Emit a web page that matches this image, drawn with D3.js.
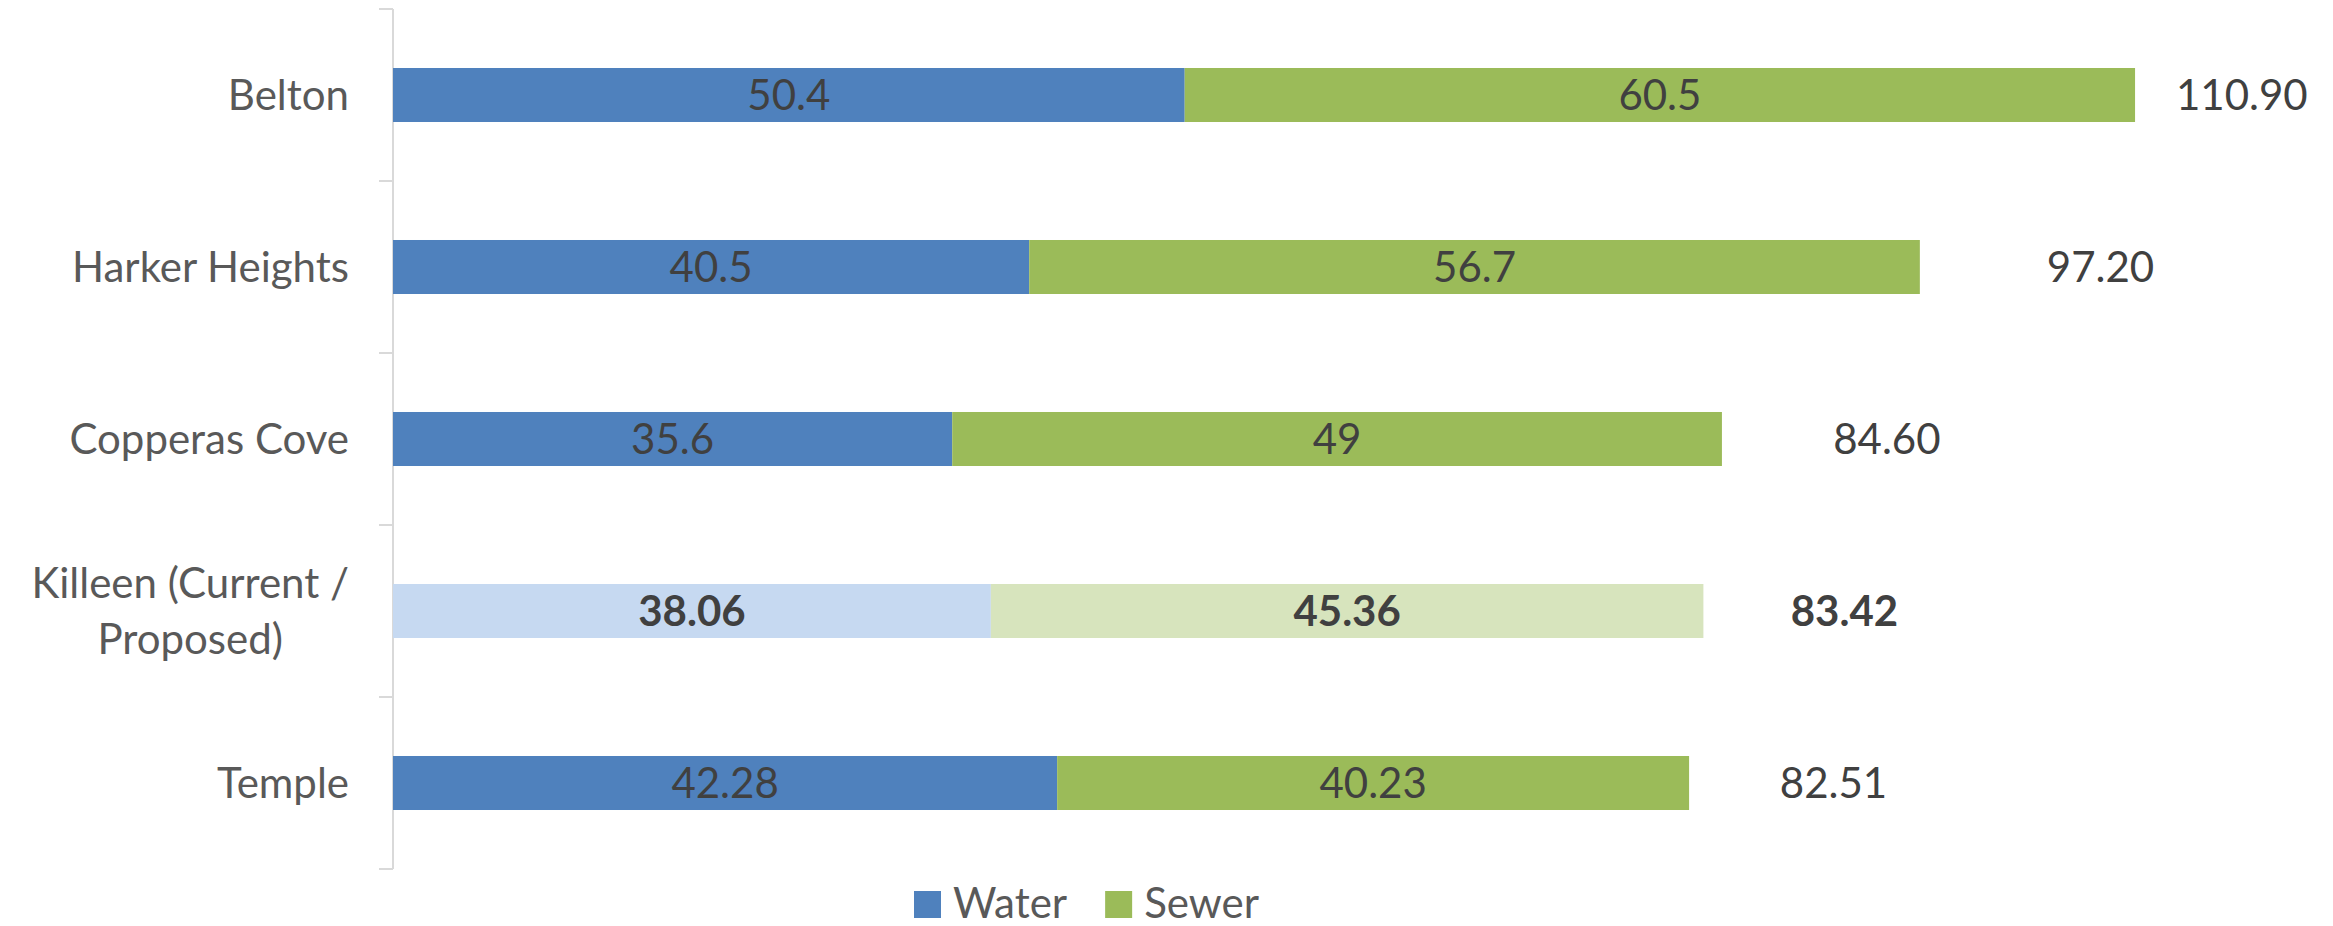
<!DOCTYPE html>
<html>
<head>
<meta charset="utf-8">
<script src="https://cdn.jsdelivr.net/npm/d3@7"></script>
<style>
  html, body { margin: 0; padding: 0; background: #ffffff; }
  svg { display: block; }
  text { font-family: Lato, "Open Sans", sans-serif; }
</style>
</head>
<body>
<svg id="chart" width="2333" height="926"></svg>
<script>
// ---- data ----
const categories = ["Belton", "Harker Heights", "Copperas Cove", "Killeen (Current / Proposed)", "Temple"];
const categoryLines = [["Belton"], ["Harker Heights"], ["Copperas Cove"], ["Killeen (Current /", "Proposed)"], ["Temple"]];
const water = [50.4, 40.5, 35.6, 38.06, 42.28];
const sewer = [60.5, 56.7, 49, 45.36, 40.23];
const waterLabels = ["50.4", "40.5", "35.6", "38.06", "42.28"];
const sewerLabels = ["60.5", "56.7", "49", "45.36", "40.23"];
const totals = [110.90, 97.20, 84.60, 83.42, 82.51];
const totalLabelAt = [117.7, 108.7, 95.1, 92.4, 91.7];   // value position of total label centre
const highlighted = [false, false, false, true, false];
const seriesNames = ["Water", "Sewer"];

// ---- styles ----
const colWater = "#4F81BD", colSewer = "#9BBB59";
const colWaterLight = "#C6D9F1", colSewerLight = "#D7E4BD";
const fontSize = 42;
const capOffset = 15;

const svg = d3.select("#chart");
const plotLeft = 393, plotRight = 2278, plotTop = 9, plotBottom = 869;

const x = d3.scaleLinear().domain([0, 120]).range([plotLeft, plotRight]);
const y = d3.scaleBand().domain(categories).range([plotTop, plotBottom]).padding(0);
const barH = y.bandwidth() * 0.314;

const rows = categories.map((c, i) => ({
  cat: c, lines: categoryLines[i], w: water[i], s: sewer[i],
  wl: waterLabels[i], sl: sewerLabels[i], t: totals[i], tAt: totalLabelAt[i], hi: highlighted[i]
}));

// axis line + ticks
const axisG = svg.append("g");
axisG.append("line")
  .attr("x1", plotLeft).attr("x2", plotLeft)
  .attr("y1", plotTop).attr("y2", plotBottom)
  .attr("stroke", "#d9d9d9").attr("stroke-width", 2);
const tickYs = categories.map(c => y(c)).concat([y(categories[categories.length - 1]) + y.bandwidth()]);
axisG.selectAll("line.tick").data(tickYs).enter().append("line")
  .attr("class", "tick")
  .attr("x1", plotLeft - 14).attr("x2", plotLeft)
  .attr("y1", d => d).attr("y2", d => d)
  .attr("stroke", "#d9d9d9").attr("stroke-width", 2);

// bars
const barsG = svg.append("g");
const cy = d => y(d.cat) + y.bandwidth() / 2;
barsG.selectAll("rect.water").data(rows).enter().append("rect")
  .attr("x", x(0)).attr("y", d => cy(d) - barH / 2)
  .attr("width", d => x(d.w) - x(0)).attr("height", barH)
  .attr("fill", d => d.hi ? colWaterLight : colWater);
barsG.selectAll("rect.sewer").data(rows).enter().append("rect")
  .attr("x", d => x(d.w)).attr("y", d => cy(d) - barH / 2)
  .attr("width", d => x(d.w + d.s) - x(d.w)).attr("height", barH)
  .attr("fill", d => d.hi ? colSewerLight : colSewer);

// data labels
const lblG = svg.append("g").attr("font-size", fontSize).attr("fill", "#404040");
lblG.selectAll("text.wl").data(rows).enter().append("text")
  .attr("x", d => (x(0) + x(d.w)) / 2).attr("y", d => cy(d) + capOffset)
  .attr("text-anchor", "middle")
  .attr("font-weight", d => d.hi ? "bold" : "normal")
  .text(d => d.wl);
lblG.selectAll("text.sl").data(rows).enter().append("text")
  .attr("x", d => (x(d.w) + x(d.w + d.s)) / 2).attr("y", d => cy(d) + capOffset)
  .attr("text-anchor", "middle")
  .attr("font-weight", d => d.hi ? "bold" : "normal")
  .text(d => d.sl);
lblG.selectAll("text.tl").data(rows).enter().append("text")
  .attr("x", d => x(d.tAt)).attr("y", d => cy(d) + capOffset)
  .attr("text-anchor", "middle")
  .attr("font-weight", d => d.hi ? "bold" : "normal")
  .text(d => d.t.toFixed(2));

// category labels
const catG = svg.append("g").attr("font-size", fontSize).attr("fill", "#595959");
const labelRight = 349;
const lineGap = 56;
rows.forEach(d => {
  const g = catG.append("g");
  const n = d.lines.length;
  const texts = d.lines.map((ln, k) => g.append("text")
    .attr("y", cy(d) + capOffset + (k - (n - 1) / 2) * lineGap)
    .text(ln));
  const maxW = d3.max(texts, t => t.node().getComputedTextLength());
  texts.forEach(t => t.attr("x", labelRight - maxW / 2).attr("text-anchor", "middle"));
});

// legend
const legG = svg.append("g").attr("font-size", fontSize).attr("fill", "#595959");
let lx = 914;
const legY = 891, sq = 27;
[colWater, colSewer].forEach((c, i) => {
  legG.append("rect").attr("x", lx).attr("y", legY).attr("width", sq).attr("height", sq).attr("fill", c);
  const t = legG.append("text").attr("x", lx + sq + 12).attr("y", legY + sq).text(seriesNames[i]);
  lx = lx + sq + 12 + t.node().getComputedTextLength() + 38;
});
</script>
</body>
</html>
